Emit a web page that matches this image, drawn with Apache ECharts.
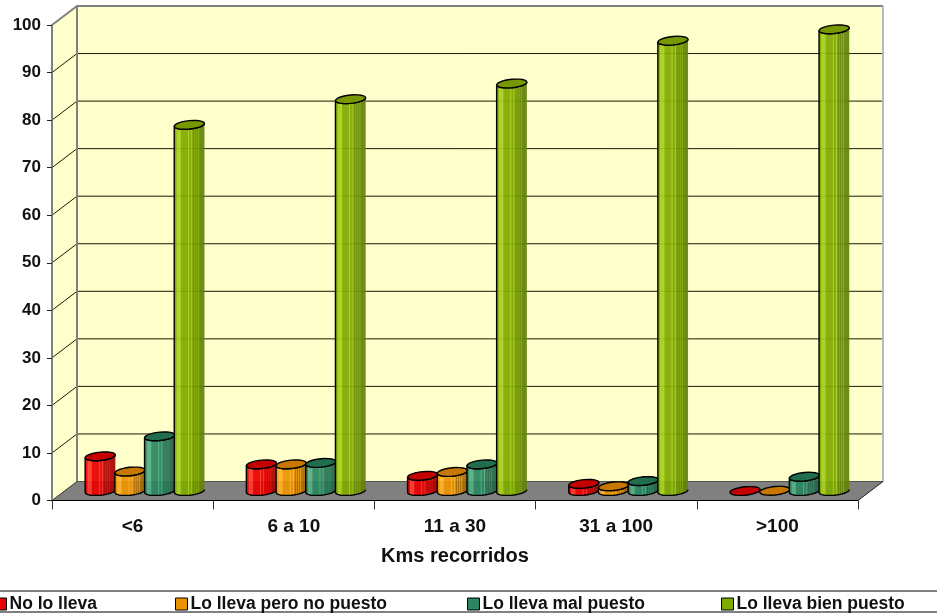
<!DOCTYPE html>
<html>
<head>
<meta charset="utf-8">
<style>html,body{margin:0;padding:0;background:#fff}#chart{width:937px;height:614px}</style>
<script src="https://cdn.jsdelivr.net/npm/echarts@6/dist/echarts.min.js"></script>
</head>
<body>
<div id="chart"></div>
<script>
// Seat-belt use by distance travelled
const categories = ['<6', '6 a 10', '11 a 30', '31 a 100', '>100'];
const yTicks = [0, 10, 20, 30, 40, 50, 60, 70, 80, 90, 100];
const noLoLleva = [7.3, 5.6, 3.2, 1.5, 0];
const peroNoPuesto = [4.1, 5.6, 4.0, 1.0, 0.05];
const malPuesto = [11.5, 5.9, 5.6, 2.1, 3.0];
const bienPuesto = [77.0, 82.4, 85.7, 94.7, 97.1];

const seriesNames = ['No lo lleva', 'Lo lleva pero no puesto', 'Lo lleva mal puesto', 'Lo lleva bien puesto'];
const seriesValues = [noLoLleva, peroNoPuesto, malPuesto, bienPuesto];
const palette = [
  {base: '#e80000', top: '#c40000', light: '#ff3a2c', dark: '#a80404'},
  {base: '#ec9400', top: '#c87800', light: '#ffb030', dark: '#a66a06'},
  {base: '#2a8660', top: '#206e4e', light: '#58ac84', dark: '#28644a'},
  {base: '#80aa00', top: '#789800', light: '#a8d01c', dark: '#64820a'}
];
const legendLeft = [-6, 175, 467, 721];

// Projection of the box: the back wall sits up and to the right of the axes
const DEPTH_X = 25, DEPTH_Y = -19;
const BAR_W = 30.2, BAR_STEP = 29.7, TILT = 1.4, RY = 4.2;
const FILL_ALPHA = 0.93;

function ellipseArc(cx, cy, from, to) {
  const pts = [], rx = BAR_W / 2, steps = 24;
  for (let k = 0; k <= steps; k++) {
    const t = from + (to - from) * k / steps;
    const ex = rx * Math.cos(t), ey = RY * Math.sin(t);
    pts.push([cx + ex, cy + ey - ex * TILT / rx]);
  }
  return pts;
}

// Banded shading across the cylinder: bright on the left, ribbed towards the right
function bodyFill(c) {
  const bands = [
    [0, c.base], [0.06, c.base], [0.09, c.light], [0.2, c.light], [0.24, c.base], [0.44, c.base],
    [0.47, c.light], [0.5, c.base], [0.55, c.base], [0.58, c.light], [0.6, c.base],
    [0.64, c.dark], [0.67, c.base], [0.71, c.dark], [0.74, c.base], [0.78, c.dark],
    [0.81, c.base], [0.85, c.dark], [1, c.dark]
  ];
  return new echarts.graphic.LinearGradient(0, 0, 1, 0, bands.map(s => ({offset: s[0], color: s[1]})));
}

function renderBar(seriesIndex) {
  return function (params, api) {
    const cat = api.value(0), val = api.value(1);
    const base = api.coord([cat, 0]), tip = api.coord([cat, val]);
    const cx = base[0] + (seriesIndex - 1.5) * BAR_STEP + DEPTH_X / 2 - 0.3;
    const y0 = base[1] + DEPTH_Y / 2, y1 = tip[1] + DEPTH_Y / 2;
    const c = palette[seriesIndex];
    const edge = {stroke: '#000', lineWidth: 1.4, lineJoin: 'round'};
    const children = [];
    if (y0 - y1 > 1) {
      const bottom = ellipseArc(cx, y0, 0, Math.PI);
      const upper = ellipseArc(cx, y1, Math.PI, 0);
      children.push({
        type: 'polygon',
        shape: {points: bottom.concat(upper)},
        style: {fill: bodyFill(c), opacity: FILL_ALPHA}
      });
      children.push({
        type: 'polyline',
        shape: {points: bottom.concat(upper)},
        style: Object.assign({fill: 'none'}, edge)
      });
    }
    children.push({
      type: 'polygon',
      shape: {points: ellipseArc(cx, y1, 0, Math.PI * 2)},
      style: Object.assign({fill: c.top}, edge)
    });
    return {type: 'group', children};
  };
}

// Walls, floor and the grid lines that follow them
function renderBox(params, api) {
  const p0 = api.coord([0, 0]), p100 = api.coord([0, 100]);
  const band = api.size([1, 0])[0];
  const xL = p0[0] - band / 2, xR = xL + band * categories.length;
  const yB = p0[1], yT = p100[1];
  const dx = DEPTH_X, dy = DEPTH_Y;
  const children = [
    {type: 'polygon', shape: {points: [[xL + dx, yT + dy], [xR + dx, yT + dy], [xR + dx, yB + dy], [xL + dx, yB + dy]]},
      style: {fill: '#ffffcc', stroke: 'none'}},
    {type: 'polygon', shape: {points: [[xL, yB], [xL, yT], [xL + dx, yT + dy], [xL + dx, yB + dy]]},
      style: {fill: '#ffffcc', stroke: 'none'}},
    {type: 'polygon', shape: {points: [[xL, yB], [xR, yB], [xR + dx, yB + dy], [xL + dx, yB + dy]]},
      style: {fill: '#808080', stroke: 'none'}}
  ];
  yTicks.slice(1, -1).forEach(v => {
    const y = api.coord([0, v])[1];
    children.push({type: 'polyline', shape: {points: [[xL, y], [xL + dx, y + dy], [xR + dx, y + dy]]},
      style: {stroke: '#1a1a00', lineWidth: 1, fill: 'none'}});
  });
  children.push(
    {type: 'polyline', shape: {points: [[xL, yT], [xL + dx, yT + dy], [xR + dx, yT + dy]]},
      style: {stroke: '#808080', lineWidth: 2, fill: 'none'}},
    {type: 'line', shape: {x1: xL + dx, y1: yT + dy, x2: xL + dx, y2: yB + dy},
      style: {stroke: '#808080', lineWidth: 2}},
    {type: 'line', shape: {x1: xR + dx, y1: yT + dy, x2: xR + dx, y2: yB + dy},
      style: {stroke: '#b8b8c0', lineWidth: 2}},
    {type: 'line', shape: {x1: xL + dx, y1: yB + dy, x2: xR + dx, y2: yB + dy},
      style: {stroke: '#555', lineWidth: 1}},
    {type: 'polyline', shape: {points: [[xL, yB], [xL + dx, yB + dy]]},
      style: {stroke: '#333', lineWidth: 1, fill: 'none'}},
    {type: 'polyline', shape: {points: [[xR, yB], [xR + dx, yB + dy]]},
      style: {stroke: '#222', lineWidth: 1, fill: 'none'}}
  );
  return {type: 'group', children};
}

const FONT = '"Liberation Sans", Arial, sans-serif';
const chart = echarts.init(document.getElementById('chart'), null, {renderer: 'canvas'});

chart.setOption({
  animation: false,
  backgroundColor: '#fff',
  grid: {left: 52, top: 25, width: 806, height: 475.5, containLabel: false},
  xAxis: {
    type: 'category',
    data: categories,
    name: 'Kms recorridos',
    nameLocation: 'middle',
    nameGap: 46,
    nameTextStyle: {fontFamily: FONT, fontWeight: 'bold', fontSize: 20, color: '#111'},
    axisLine: {lineStyle: {color: '#000', width: 1}},
    axisTick: {show: true, alignWithLabel: false, length: 9, lineStyle: {color: '#333', width: 1}},
    axisLabel: {fontFamily: FONT, fontWeight: 'bold', fontSize: 19, color: '#111', margin: 17},
    splitLine: {show: false},
    z: 5
  },
  yAxis: {
    type: 'value',
    min: 0,
    max: 100,
    interval: 10,
    axisLine: {show: true, lineStyle: {color: '#808080', width: 2}},
    axisTick: {show: true, length: 5, lineStyle: {color: '#222', width: 1}},
    axisLabel: {fontFamily: FONT, fontWeight: 'bold', fontSize: 17, color: '#111', margin: 11, padding: [2, 0, 0, 0]},
    splitLine: {show: false},
    z: 5
  },
  legend: seriesNames.map((name, i) => ({
    data: [name],
    left: legendLeft[i],
    top: 595,
    padding: 0,
    itemWidth: 12,
    itemHeight: 12,
    itemGap: 0,
    icon: 'rect',
    selectedMode: false,
    textStyle: {fontFamily: FONT, fontWeight: 'bold', fontSize: 17.5, color: '#111', padding: [0, 0, 0, -2]},
    itemStyle: {borderColor: '#000', borderWidth: 1}
  })),
  graphic: [{
    type: 'rect',
    silent: true,
    shape: {x: -3, y: 591, width: 943, height: 21},
    style: {fill: 'none', stroke: '#808080', lineWidth: 2},
    z: 1
  }],
  series: [
    {
      type: 'custom',
      name: 'box',
      silent: true,
      clip: false,
      coordinateSystem: 'cartesian2d',
      renderItem: renderBox,
      data: [[0, 0]],
      z: 1
    }
  ].concat(seriesNames.map((name, i) => ({
    type: 'custom',
    name,
    clip: false,
    silent: true,
    coordinateSystem: 'cartesian2d',
    renderItem: renderBar(i),
    itemStyle: {color: palette[i].base},
    encode: {x: 0, y: 1},
    data: seriesValues[i].map((v, c) => [c, v]),
    z: 2
  })))
});
</script>
</body>
</html>
